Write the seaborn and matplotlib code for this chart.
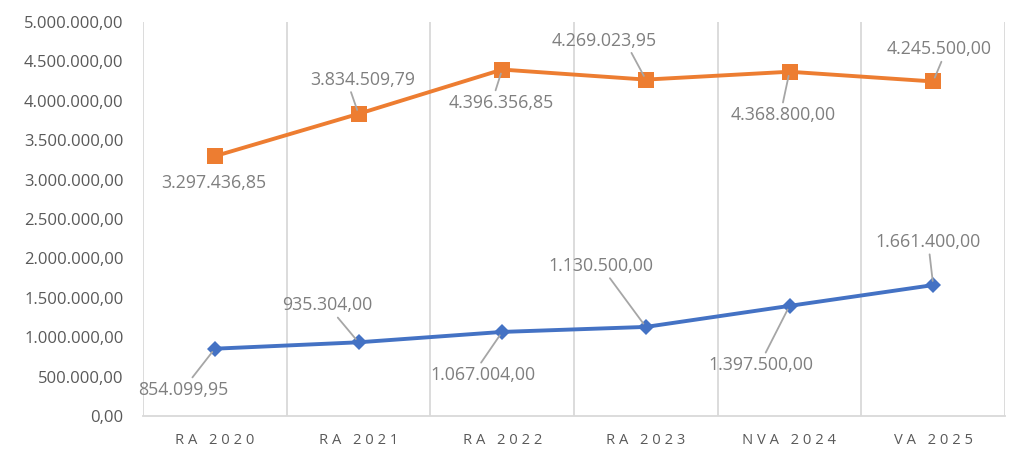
import matplotlib
matplotlib.use("Agg")
import matplotlib.pyplot as plt
import seaborn as sns
import pandas as pd
from matplotlib.ticker import FuncFormatter, MultipleLocator, FixedLocator

categories = ["RA 2020", "RA 2021", "RA 2022", "RA 2023", "NVA 2024", "VA 2025"]
orange_values = [3297436.85, 3834509.79, 4396356.85, 4269023.95, 4368800.00, 4245500.00]
blue_values = [854099.95, 935304.00, 1067004.00, 1130500.00, 1397500.00, 1661400.00]

# label offsets (pixels, x right / y up), leader flag and leader start (relative x on label)
orange_offsets = [(-1, -27), (4, 34), (-1, -33), (-42, 39), (-6, -43), (6, 32)]
orange_leader = [False, True, True, True, True, True]
orange_relx = [0.5, 0.35, 0.41, 0.7, 0.47, 0.57]
blue_offsets = [(-32, -41), (-31, 37), (-19, -43), (-45, 61), (-29, -59), (-5, 43)]
blue_leader = [True, True, True, True, True, True]
blue_relx = [0.5, 0.5, 0.4, 0.5, 0.49, 0.5]

ORANGE = "#ED7D31"
BLUE = "#4472C4"
GRID = "#D9D9D9"
TICK_COLOR = "#595959"
LABEL_COLOR = "#7F7F7F"

sns.set_theme(style="white")
plt.rcParams["font.family"] = ["Open Sans", "DejaVu Sans"]

def eu(v):
    s = f"{v:,.2f}"
    return s.replace(",", "X").replace(".", ",").replace("X", ".")

pos = list(range(len(categories)))
df = pd.DataFrame({
    "pos": pos * 2,
    "value": orange_values + blue_values,
    "series": ["orange"] * len(pos) + ["blue"] * len(pos),
})

fig = plt.figure(figsize=(10.15, 4.5), dpi=100)
ax = fig.add_axes([143 / 1015, 34 / 450, (1005 - 143) / 1015, (416 - 22) / 450])

sns.lineplot(data=df[df.series == "blue"], x="pos", y="value", ax=ax, color=BLUE,
             linewidth=2.8, marker="D", markersize=8.5, markeredgewidth=0, zorder=3)
sns.lineplot(data=df[df.series == "orange"], x="pos", y="value", ax=ax, color=ORANGE,
             linewidth=2.8, marker="s", markersize=11, markeredgewidth=0, zorder=3)

ax.set_xlim(-0.5, len(categories) - 0.5)
ax.set_ylim(0, 5000000)
ax.yaxis.set_major_locator(MultipleLocator(500000))
ax.yaxis.set_major_formatter(FuncFormatter(lambda v, p: eu(v)))
ax.set_xticks(pos)
ax.set_xticklabels([" ".join(list(c)) for c in categories])
ax.xaxis.set_minor_locator(FixedLocator([i + 0.5 for i in range(-1, len(categories))]))
ax.grid(False)
ax.grid(True, which="minor", axis="x", color=GRID, linewidth=1.3)
ax.set_xlabel("")
ax.set_ylabel("")
if ax.get_legend():
    ax.get_legend().remove()

for side in ["top", "left", "right"]:
    ax.spines[side].set_visible(False)
ax.spines["bottom"].set_color(GRID)
ax.spines["bottom"].set_linewidth(1.3)

ax.tick_params(axis="both", which="both", length=0)
ax.tick_params(axis="y", labelsize=12, labelcolor=TICK_COLOR, pad=14)
ax.tick_params(axis="x", labelsize=10.6, labelcolor=TICK_COLOR, pad=12.5)

def label_series(values, offsets, leaders, relxs):
    for i, (v, off, ld, rx) in enumerate(zip(values, offsets, leaders, relxs)):
        kw = {}
        if ld:
            kw["arrowprops"] = dict(arrowstyle="-", color="#A6A6A6", lw=1.3,
                                    shrinkA=0, shrinkB=3, relpos=(rx, 0.5))
        ax.annotate(eu(v), xy=(i, v), xytext=off, textcoords="offset pixels",
                    ha="center", va="center", fontsize=12.8, color=LABEL_COLOR,
                    zorder=4, **kw)

label_series(orange_values, orange_offsets, orange_leader, orange_relx)
label_series(blue_values, blue_offsets, blue_leader, blue_relx)

fig.savefig("out.png", dpi=100)
